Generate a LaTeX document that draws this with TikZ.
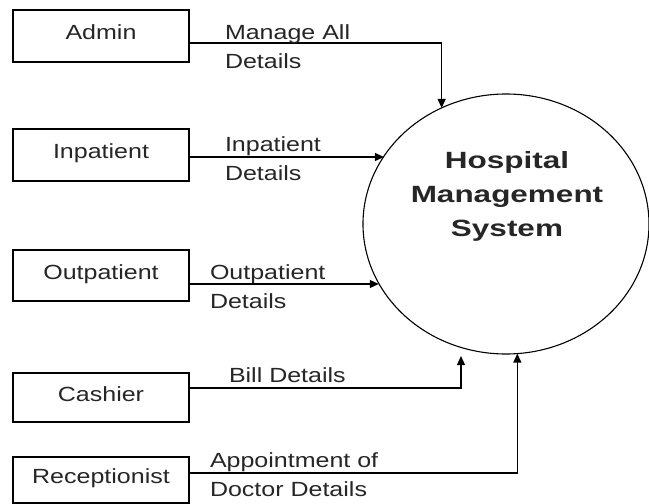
\documentclass[tikz,border=0pt]{standalone}
\usepackage{fontspec}
\setmainfont{Liberation Sans}[FakeStretch=1.22]
\newfontfamily\hmsfont{Liberation Sans}[FakeStretch=1.34]
\usetikzlibrary{arrows.meta,shapes.geometric}

\begin{document}
\begin{tikzpicture}
  [x=1pt, y=-1pt,
   every node/.style={inner sep=0pt, outer sep=0pt, text=black!85},
   entity/.style={draw, line width=1.3pt, minimum width=176pt, minimum height=52pt,
                  text height=15pt, text depth=8pt, font=\fontsize{20.5}{24}\selectfont},
   process/.style={draw, ellipse, line width=1.1pt, minimum width=286pt, minimum height=260pt},
   flowlabel/.style={anchor=north west, align=left, font=\fontsize{20.5}{28.5}\selectfont},
   flow/.style={line width=1.2pt, -{Triangle[length=9pt,width=8pt]}}]
  \useasboundingbox (0,0) rectangle (649,504);

  \node[entity] (admin) at (101,36) {Admin};
  \node[entity] (inpatient) at (101,155) {Inpatient};
  \node[entity, minimum height=51pt] (outpatient) at (101,275.5) {Outpatient};
  \node[entity, minimum height=49pt] (cashier) at (101,397.5) {Cashier};
  \node[entity, minimum height=46pt] (receptionist) at (101,480) {Receptionist};

  \node[process] (hms) at (506,224) {};
  \node[align=center, font=\hmsfont\bfseries\fontsize{23.5}{34}\selectfont] (hmstitle) at (507,196)
    {Hospital\\Management\\System};

  \coordinate (billend) at (461,356);

  \draw[flow] ([yshift=-7pt]admin.east) -| (hms.119);
  \draw[flow] ([yshift=-2pt]inpatient.east) -- ([yshift=-2pt]inpatient.east -| hms.151);
  \draw[flow] ([yshift=-8.5pt]outpatient.east) -- ([yshift=-8.5pt]outpatient.east -| hms.205);
  \draw[flow] ([yshift=9.5pt]cashier.east) -| (billend);
  \draw[flow] ([yshift=7pt]receptionist.east) -| (hms.275);

  \node[flowlabel] (managelbl) at (225,25) {Manage All\\Details};
  \node[flowlabel] (inlbl) at (225,137) {Inpatient\\Details};
  \node[flowlabel] (outlbl) at (210,265) {Outpatient\\Details};
  \node[flowlabel] (billlbl) at (229,368) {Bill Details};
  \node[flowlabel] (apptlbl) at (210,453) {Appointment of\\Doctor Details};
\end{tikzpicture}
\end{document}
